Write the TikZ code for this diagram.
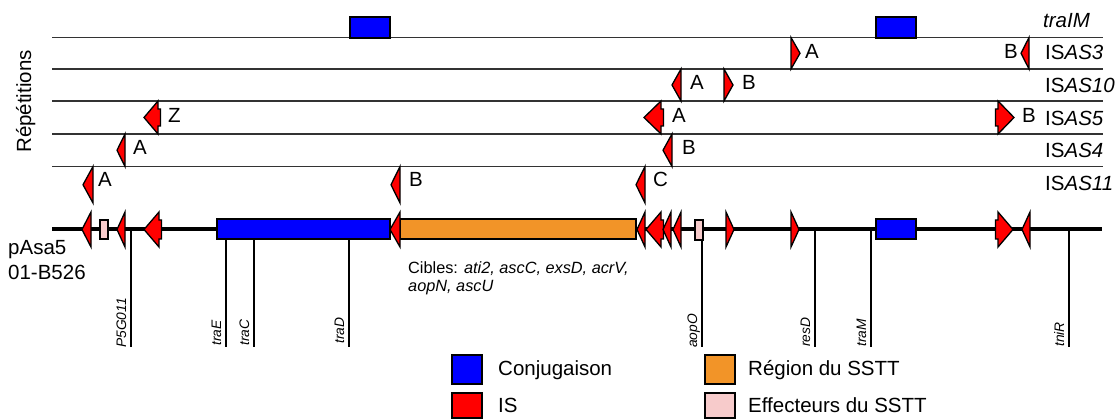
\documentclass[tikz,border=0pt]{standalone}
\usepackage{fontspec}
\setmainfont{Liberation Sans}
\definecolor{sstorange}{RGB}{242,148,40}
\definecolor{effpink}{RGB}{247,203,203}
\newcommand\isarrow[4]{\filldraw[isshape] (#2,#3) -- (#1,{(#3+#4)/2}) -- (#2,#4) -- cycle;}
\newcommand\isbig[5]{\filldraw[isshape] (#2,#4) -- (#1,{(#4+#5)/2}) -- (#2,#5) -- (#2,{#5-8}) -- (#3,{#5-8}) -- (#3,{#4+8}) -- (#2,{#4+8}) -- cycle;}
\begin{document}
\begin{tikzpicture}[x=1pt,y=-1pt,
  rowline/.style={draw=black!80, line width=1.2pt},
  isshape/.style={fill=red, draw=black, line width=1.3pt, line join=miter},
  conj/.style={fill=blue, draw=black, line width=1.6pt},
  sstt/.style={fill=sstorange, draw=black, line width=1.6pt},
  eff/.style={fill=effpink, draw=black, line width=1.6pt},
  tickline/.style={draw=black, line width=2pt},
  lbl/.style={font=\fontsize{20.5}{24}\selectfont, anchor=base west, inner sep=0pt},
  small/.style={font=\fontsize{16.3}{18}\selectfont, anchor=base west, inner sep=0pt},
  gene/.style={font=\fontsize{13.8}{15}\selectfont\itshape, rotate=90, anchor=base west, inner sep=0pt},
]
\useasboundingbox (0,0) rectangle (1119,419);

% repetition row lines
\foreach \yy in {37.5,69,101,134,166.5}
  \draw[rowline] (52,\yy) -- (1103,\yy);

% traIM
\filldraw[conj] (350,17) rectangle (390,38);
\filldraw[conj] (876,17) rectangle (916,38);

% ISAS3 row
\isarrow{800}{791}{37.5}{69}
\isarrow{1021}{1029}{37.5}{69}
% ISAS10 row
\isarrow{672}{681}{69}{101}
\isarrow{733}{724}{69}{101}
% ISAS5 row
\isbig{144}{158}{160.5}{101}{134}
\isbig{644}{661}{663.5}{101}{134}
\isbig{1014}{998}{995.5}{101}{134}
% ISAS4 row
\isarrow{117}{125}{134}{166.5}
\isarrow{663}{672}{134}{166.5}
% ISAS11 row
\isarrow{83}{93}{166.5}{203}
\isarrow{391}{400}{166.5}{203}
\isarrow{636}{645}{166.5}{203}

% row letters
\node[lbl] (l3a) at (805,59) {A};
\node[lbl] (l3b) at (1004,59) {B};
\node[lbl] (l10a) at (690,90) {A};
\node[lbl] (l10b) at (742,90) {B};
\node[lbl] (l5z) at (168,123) {Z};
\node[lbl] (l5a) at (672,123) {A};
\node[lbl] (l5b) at (1022,123) {B};
\node[lbl] (l4a) at (133,155) {A};
\node[lbl] (l4b) at (682,155) {B};
\node[lbl] (l11a) at (98,187) {A};
\node[lbl] (l11b) at (409,187) {B};
\node[lbl] (l11c) at (653,187) {C};

% row names
\node[lbl] (ntra) at (1043,28) {\itshape traIM};
\node[lbl] (n3) at (1045,60) {IS\textit{AS3}};
\node[lbl] (n10) at (1045,93) {IS\textit{AS10}};
\node[lbl] (n5) at (1045,126) {IS\textit{AS5}};
\node[lbl] (n4) at (1045,158) {IS\textit{AS4}};
\node[lbl] (n11) at (1045,191) {IS\textit{AS11}};

\node[lbl, anchor=base, rotate=90] (rep) at (31,101.5) {Répétitions};

% plasmid name
\node[lbl] (p1) at (8,255) {pAsa5};
\node[lbl] (p2) at (8,280) {01-B526};

% gene ticks
\draw[tickline] (131,231) -- (131,347);
\draw[tickline] (226,239) -- (226,347);
\draw[tickline] (254,239) -- (254,347);
\draw[tickline] (349,239) -- (349,347);
\draw[tickline] (702,240) -- (702,347);
\draw[tickline] (815,231) -- (815,347);
\draw[tickline] (871,231) -- (871,347);
\draw[tickline] (1069,231) -- (1069,347);

\node[gene] (g1) at (126,348) {P5G011};
\node[gene] (g2) at (221,346) {traE};
\node[gene] (g3) at (249,346) {traC};
\node[gene] (g4) at (344,344) {traD};
\node[gene] (g5) at (697,348) {aopO};
\node[gene] (g6) at (810,347) {resD};
\node[gene] (g7) at (866,347) {traM};
\node[gene] (g8) at (1064,347) {tniR};

% main axis
\draw[line width=4pt] (52,229.5) -- (1102,229.5);
\filldraw[conj] (217,219) rectangle (390,239);
\filldraw[sstt] (400,219) rectangle (636,239);
\filldraw[conj] (876,219) rectangle (916,239);
\filldraw[eff] (100,220) rectangle (108,239);
\filldraw[eff] (695,220) rectangle (703,240);

\isarrow{82}{91}{212}{247}
\isarrow{117}{125}{212}{247}
\isbig{144}{159}{161.5}{212}{247}
\isarrow{390}{400}{212}{247}
\isarrow{637}{645}{212}{247}
\isbig{646}{661}{663.5}{212}{247}
\isarrow{663}{671}{212}{247}
\isarrow{673}{681}{212}{247}
\isarrow{734}{726}{212}{247}
\isarrow{799}{791}{212}{247}
\isbig{1013}{998}{995.5}{212}{247}
\isarrow{1022}{1030}{212}{247}

% targets
\node[small] (c1) at (408,274) {Cibles: \textit{ati2, ascC, exsD, acrV,}};
\node[small] (c2) at (408,292) {\textit{aopN, ascU}};

% legend
\filldraw[conj] (452,355) rectangle (482,384);
\filldraw[isshape, line width=1.6pt] (452,393) rectangle (482,418);
\filldraw[sstt] (705,355) rectangle (735,384);
\filldraw[eff] (705,393) rectangle (735,418);
\node[lbl] (k1) at (498,376) {Conjugaison};
\node[lbl] (k2) at (498,413) {IS};
\node[lbl] (k3) at (748,376) {Région du SSTT};
\node[lbl] (k4) at (748,413) {Effecteurs du SSTT};
\end{tikzpicture}
\end{document}
